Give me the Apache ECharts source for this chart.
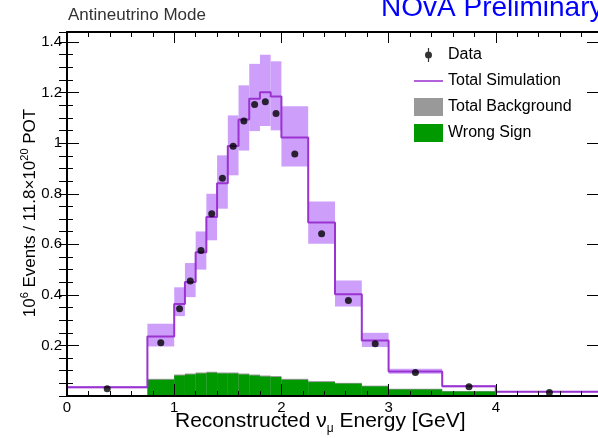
<!DOCTYPE html>
<html>
<head>
<meta charset="utf-8">
<script src="https://cdn.jsdelivr.net/npm/echarts@6/dist/echarts.min.js"></script>
<style>
  html, body { margin: 0; padding: 0; background: #ffffff; }
  #chart { width: 598px; height: 438px; }
</style>
</head>
<body>
<div id="chart"></div>
<script>
// Reconstructed energy binning [GeV] (variable-width bins)
const binEdges = [0, 0.75, 1.0, 1.1, 1.2, 1.3, 1.4, 1.5, 1.6, 1.7, 1.8, 1.9, 2.0, 2.25, 2.5, 2.75, 3.0, 3.5, 4.0, 5.0];

// 10^6 events / 11.8x10^20 POT, one value per bin
const totalSimulation = [0.035, 0.235, 0.364, 0.451, 0.569, 0.708, 0.842, 0.989, 1.094, 1.176, 1.202, 1.185, 1.023, 0.686, 0.403, 0.220, 0.097, 0.039, 0.017];
const simBandLow      = [0.031, 0.196, 0.316, 0.391, 0.500, 0.616, 0.741, 0.873, 0.971, 1.048, 1.068, 1.051, 0.908, 0.602, 0.354, 0.194, 0.088, 0.035, 0.015];
const simBandHigh     = [0.039, 0.286, 0.430, 0.526, 0.651, 0.800, 0.952, 1.110, 1.229, 1.314, 1.350, 1.324, 1.146, 0.769, 0.457, 0.250, 0.108, 0.043, 0.019];
const dataCounts      = [0.029, 0.211, 0.345, 0.455, 0.576, 0.721, 0.861, 0.988, 1.088, 1.153, 1.164, 1.118, 0.957, 0.642, 0.378, 0.207, 0.093, 0.037, 0.014];
const totalBackground = [0.000, 0.068, 0.085, 0.089, 0.093, 0.096, 0.093, 0.093, 0.089, 0.085, 0.081, 0.079, 0.068, 0.059, 0.052, 0.041, 0.029, 0.020, 0.004];
const wrongSign       = [0.000, 0.064, 0.081, 0.085, 0.089, 0.092, 0.089, 0.089, 0.085, 0.081, 0.077, 0.075, 0.064, 0.055, 0.049, 0.038, 0.026, 0.018, 0.003];

// Axis tick labels
const xTickLabels = [0, 1, 2, 3, 4];
const yTickLabels = [0.2, 0.4, 0.6, 0.8, 1, 1.2, 1.4];

const FONT = '"Liberation Sans", Arial, Helvetica, sans-serif';
const SIM_LINE = '#9a33cf';
const SIM_BAND = '#cd9ffb';
const BKG_GRAY = '#999999';
const WS_GREEN = '#009900';

// Build per-bin boxes [x0, x1, low, high]
function boxes(low, high) {
  return binEdges.slice(0, -1).map((x0, i) => [x0, binEdges[i + 1], low[i], high[i]]);
}
const zeros = binEdges.slice(0, -1).map(() => 0);

// Histogram outline: horizontal run across every bin, joined by vertical steps
const simOutline = [];
totalSimulation.forEach((v, i) => { simOutline.push([binEdges[i], v], [binEdges[i + 1], v]); });

const dataPoints = dataCounts.map((v, i) => [(binEdges[i] + binEdges[i + 1]) / 2, v]);

function rectRenderer(color) {
  return function (params, api) {
    const a = api.coord([api.value(0), api.value(3)]);
    const b = api.coord([api.value(1), api.value(2)]);
    return {
      type: 'rect',
      shape: { x: a[0], y: a[1], width: b[0] - a[0], height: b[1] - a[1] },
      style: { fill: color }
    };
  };
}

function showIn(list) {
  return function (v) {
    return list.some(t => Math.abs(t - v) < 1e-6) ? String(v) : '';
  };
}

const YMAX = 1.44;
const axisLineStyle = { color: '#000', width: 2 };

const chart = echarts.init(document.getElementById('chart'), null, { renderer: 'canvas' });

chart.setOption({
  animation: false,
  backgroundColor: '#ffffff',
  grid: { left: 67, top: 32, width: 536, height: 364, containLabel: false, outerBoundsMode: 'none' },
  xAxis: [
    {
      type: 'value', position: 'bottom', min: 0, max: 5, interval: 1, z: 10,
      axisLine: { show: true, onZero: false, lineStyle: axisLineStyle },
      axisTick: { show: true, inside: true, length: 12, lineStyle: { color: '#000', width: 1 } },
      minorTick: { show: true, splitNumber: 5, length: 5, lineStyle: { color: '#000', width: 1 } },
      splitLine: { show: false },
      axisLabel: { show: true, margin: 4, color: '#000', fontSize: 15, fontFamily: FONT, formatter: showIn(xTickLabels) }
    },
    {
      type: 'value', position: 'top', min: 0, max: 5, interval: 1, z: 10,
      axisLine: { show: true, onZero: false, lineStyle: axisLineStyle },
      axisTick: { show: true, inside: true, length: 11, lineStyle: { color: '#000', width: 1 } },
      minorTick: { show: true, splitNumber: 5, length: 5, lineStyle: { color: '#000', width: 1 } },
      splitLine: { show: false },
      axisLabel: { show: false }
    }
  ],
  yAxis: [
    {
      type: 'value', position: 'left', min: 0, max: YMAX, interval: 0.2, z: 10,
      axisLine: { show: true, onZero: false, lineStyle: axisLineStyle },
      axisTick: { show: true, inside: true, length: 12, lineStyle: { color: '#000', width: 1 } },
      splitLine: { show: false },
      axisLabel: { show: true, margin: 5, color: '#000', fontSize: 15, fontFamily: FONT, formatter: showIn(yTickLabels) }
    },
    {
      type: 'value', position: 'left', min: 0, max: YMAX, interval: 0.05, z: 10,
      axisLine: { show: false },
      axisTick: { show: true, inside: true, length: 6, lineStyle: { color: '#000', width: 1 } },
      splitLine: { show: false },
      axisLabel: { show: false }
    },
    {
      type: 'value', position: 'right', min: 0, max: YMAX, interval: 0.2, z: 10,
      axisLine: { show: true, onZero: false, lineStyle: axisLineStyle },
      axisTick: { show: true, inside: true, length: 16, lineStyle: { color: '#000', width: 1 } },
      splitLine: { show: false },
      axisLabel: { show: false }
    },
    {
      type: 'value', position: 'right', min: 0, max: YMAX, interval: 0.05, z: 10,
      axisLine: { show: false },
      axisTick: { show: true, inside: true, length: 8, lineStyle: { color: '#000', width: 1 } },
      splitLine: { show: false },
      axisLabel: { show: false }
    }
  ],
  legend: [
    {
      orient: 'vertical', left: 409, top: 42, itemWidth: 29, itemHeight: 14, itemGap: 10,
      textStyle: { fontSize: 16, fontFamily: FONT, color: '#000' },
      selectedMode: false,
      data: [
        { name: 'Data', icon: 'path://M3.4,0H4.6V14H3.4Z M4,3.5A3.5,3.5 0 1 1 4,10.5A3.5,3.5 0 1 1 4,3.5Z', itemStyle: { color: '#000' } },
        { name: 'Total Simulation', icon: 'path://M0,0H30V1.6H0Z', itemStyle: { color: SIM_LINE } }
      ]
    },
    {
      orient: 'vertical', left: 409, top: 93, itemWidth: 29, itemHeight: 18, itemGap: 8,
      textStyle: { fontSize: 16, fontFamily: FONT, color: '#000' },
      selectedMode: false,
      data: [
        { name: 'Total Background', icon: 'rect', itemStyle: { color: BKG_GRAY } },
        { name: 'Wrong Sign', icon: 'rect', itemStyle: { color: WS_GREEN } }
      ]
    }
  ],
  graphic: [
    {
      type: 'text', left: 68, top: 7, z: 20,
      style: { text: 'Antineutrino Mode', fill: '#333333', fontSize: 17, fontFamily: FONT }
    },
    {
      type: 'text', left: 381, top: -6, z: 20,
      style: { text: 'NOvA Preliminary', fill: '#0000ff', fontSize: 28, fontFamily: FONT }
    },
    {
      type: 'text', left: 175, top: 411, z: 20,
      style: {
        text: '{n|Reconstructed ν}{s|μ}{n| Energy [GeV]}',
        fill: '#000', fontFamily: FONT,
        rich: {
          n: { fontSize: 21, lineHeight: 26, fontFamily: FONT, fill: '#000', verticalAlign: 'middle' },
          s: { fontSize: 12, lineHeight: 12, fontFamily: FONT, fill: '#000', verticalAlign: 'bottom' }
        }
      }
    },
    {
      type: 'text', x: 30, y: 213, rotation: Math.PI / 2, z: 20,
      style: {
        text: '{n|10}{s|6}{n| Events / 11.8×10}{s|20}{n| POT}',
        align: 'center', verticalAlign: 'middle', fill: '#000', fontFamily: FONT,
        rich: {
          n: { fontSize: 17, lineHeight: 22, fontFamily: FONT, fill: '#000', verticalAlign: 'middle' },
          s: { fontSize: 11, lineHeight: 11, fontFamily: FONT, fill: '#000', verticalAlign: 'top' }
        }
      }
    }
  ],
  series: [
    {
      name: 'Simulation uncertainty', type: 'custom', z: 1, silent: true,
      renderItem: rectRenderer(SIM_BAND),
      data: boxes(simBandLow, simBandHigh)
    },
    {
      name: 'Total Background', type: 'custom', z: 2, silent: true,
      itemStyle: { color: BKG_GRAY },
      renderItem: rectRenderer(BKG_GRAY),
      data: boxes(zeros, totalBackground)
    },
    {
      name: 'Wrong Sign', type: 'custom', z: 3, silent: true,
      itemStyle: { color: WS_GREEN },
      renderItem: rectRenderer(WS_GREEN),
      data: boxes(zeros, wrongSign)
    },
    {
      name: 'Total Simulation', type: 'line', z: 4, silent: true,
      showSymbol: false, symbol: 'none',
      lineStyle: { color: SIM_LINE, width: 2 },
      itemStyle: { color: SIM_LINE },
      data: simOutline
    },
    {
      name: 'Data', type: 'scatter', z: 5, silent: true,
      symbol: 'circle', symbolSize: 7,
      itemStyle: { color: '#000' },
      data: dataPoints
    }
  ]
});
</script>
</body>
</html>
